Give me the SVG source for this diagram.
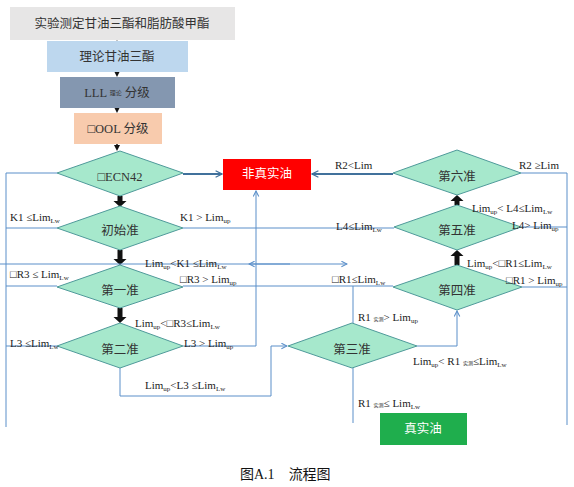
<svg xmlns="http://www.w3.org/2000/svg" width="574" height="487" viewBox="0 0 574 487">
<defs>
<style>
.t{font-family:"Liberation Serif","Noto Sans CJK SC",serif;font-size:11px;fill:#222}
.c{font-family:"Liberation Serif","Noto Sans CJK SC",serif;font-size:12.5px;fill:#333;text-anchor:middle;dominant-baseline:central}
.w{fill:#fff}
.s{font-size:7px;fill:#222}
.cap{font-family:"Liberation Serif","Noto Sans CJK SC",serif;font-size:14px;fill:#111}
.dm{fill:#a6e8cc;stroke:#4f9a9a;stroke-width:1}
.ln{fill:none;stroke:#5b8fc9;stroke-width:1}
.tk{fill:none;stroke:#41719c;stroke-width:2.2}
</style>
<marker id="oa" viewBox="0 0 10 10" refX="9" refY="5" markerWidth="7" markerHeight="7" orient="auto" markerUnits="userSpaceOnUse">
<path d="M1,1 L9,5 L1,9" fill="none" stroke="#5b8fc9" stroke-width="1.5"/>
</marker>
<marker id="ta" viewBox="0 0 10 10" refX="9" refY="5" markerWidth="8" markerHeight="8" orient="auto" markerUnits="userSpaceOnUse">
<path d="M1,1 L9,5 L1,9" fill="none" stroke="#41719c" stroke-width="1.5"/>
</marker>
<marker id="ba" viewBox="0 0 10 10" refX="5" refY="5" markerWidth="6" markerHeight="6" orient="auto" markerUnits="userSpaceOnUse">
<path d="M0,0 L10,5 L0,10 Z" fill="#111"/>
</marker>
</defs>
<rect width="574" height="487" fill="#fff"/>

<g id="connectors">
<g stroke="#111" stroke-width="1.5">
<line x1="117" y1="28" x2="117" y2="38" marker-end="url(#ba)"/>
<line x1="117" y1="65" x2="117" y2="74" marker-end="url(#ba)"/>
<line x1="117" y1="98" x2="117" y2="110" marker-end="url(#ba)"/>
<line x1="117" y1="135" x2="117" y2="148" marker-end="url(#ba)"/>
</g>
<g fill="#111">
<path d="M117.5,196 h5 v5 h4 l-6.5,6 l-6.5,-6 h4 z"/>
<path d="M117.5,250 h5 v9 h4 l-6.5,6 l-6.5,-6 h4 z"/>
<path d="M117.5,308 h5 v9 h4 l-6.5,6 l-6.5,-6 h4 z"/>
<path d="M454.5,265 h5 v-9 h4 l-6.5,-6 l-6.5,6 h4 z"/>
<path d="M454.5,205 h5 v-4 h4 l-6.5,-6 l-6.5,6 h4 z"/>
</g>
<path class="ln" d="M57,173 H6 V427"/>
<line class="ln" x1="6" y1="228" x2="57" y2="228"/>
<line class="ln" x1="6" y1="286" x2="57" y2="286"/>
<line class="ln" x1="6" y1="346" x2="57" y2="346"/>
<line class="ln" x1="0" y1="264" x2="347" y2="264" marker-end="url(#oa)"/>
<line class="ln" x1="290" y1="264" x2="249" y2="264" marker-end="url(#oa)"/>
<line class="ln" x1="183" y1="228" x2="394" y2="228"/>
<line class="ln" x1="183" y1="286" x2="393" y2="286"/>
<path class="ln" d="M183,346 H256 V191" marker-end="url(#oa)"/>
<path class="ln" d="M120,368 V396 H271 V346 H287" marker-end="url(#oa)"/>
<line class="ln" x1="353" y1="323" x2="353" y2="286"/>
<path class="ln" d="M417,346 H457 V311" marker-end="url(#oa)"/>
<line class="ln" x1="353" y1="368" x2="353" y2="423"/>
<path class="ln" d="M521,173 H567 V425"/>
<line class="ln" x1="521" y1="227" x2="567" y2="227"/>
<line class="ln" x1="522" y1="287" x2="567" y2="287"/>
<path class="tk" d="M183,174 H222" marker-end="url(#ta)"/>
<path class="tk" d="M393,174 H312" marker-end="url(#ta)"/>
</g>

<g id="n_exp"><rect x="10" y="7" width="225" height="33" fill="#e7e6e6"/><text class="c" x="122" y="24">实验测定甘油三酯和脂肪酸甲酯</text></g>
<g id="n_theory"><rect x="47" y="41" width="141" height="31" fill="#bdd7ee"/><text class="c" x="117" y="57">理论甘油三酯</text></g>
<g id="n_lll"><rect x="60" y="77" width="115" height="31" fill="#8497b0"/><text class="c" x="117" y="93">LLL <tspan font-size="6">理论</tspan> 分级</text></g>
<g id="n_ool"><rect x="74" y="113" width="88" height="31" fill="#f8cbad"/><text class="c" x="118" y="129">□OOL 分级</text></g>

<g id="n_ecn"><path class="dm" d="M120,151 L183,173 L120,196 L57,173 Z"/><text class="c" x="120" y="177">□ECN42</text></g>
<g id="n_init"><path class="dm" d="M120,206 L183,228 L120,250 L57,228 Z"/><text class="c" x="120" y="231">初始准</text></g>
<g id="n_c1"><path class="dm" d="M120,265 L183,287 L120,308 L57,287 Z"/><text class="c" x="120" y="291">第一准</text></g>
<g id="n_c2"><path class="dm" d="M120,323 L183,346 L120,368 L57,346 Z"/><text class="c" x="120" y="350">第二准</text></g>
<g id="n_c3"><path class="dm" d="M352,323 L417,346 L352,368 L288,346 Z"/><text class="c" x="352" y="350">第三准</text></g>
<g id="n_c4"><path class="dm" d="M457,265 L522,287 L457,310 L393,287 Z"/><text class="c" x="457" y="291">第四准</text></g>
<g id="n_c5"><path class="dm" d="M457,205 L521,227 L457,250 L394,227 Z"/><text class="c" x="457" y="231">第五准</text></g>
<g id="n_c6"><path class="dm" d="M457,150 L521,173 L457,195 L393,173 Z"/><text class="c" x="457" y="177">第六准</text></g>

<g id="n_fake"><rect x="223" y="159" width="88" height="31" fill="#ff0000"/><text class="c w" x="267" y="174">非真实油</text></g>
<g id="n_real"><rect x="380" y="413" width="87" height="32" fill="#1fae4d"/><text class="c w" x="423" y="429">真实油</text></g>

<g id="labels">
<text class="t" x="10" y="221">K1 ≤Lim<tspan class="s" dy="2">Lw</tspan></text>
<text class="t" x="180" y="221">K1 &gt; Lim<tspan class="s" dy="2">up</tspan></text>
<text class="t" x="145" y="267">Lim<tspan class="s" dy="2">up</tspan><tspan dy="-2">&lt;K1 ≤Lim</tspan><tspan class="s" dy="2">Lw</tspan></text>
<text class="t" x="10" y="278">□R3 ≤ Lim<tspan class="s" dy="2">Lw</tspan></text>
<text class="t" x="180" y="283">□R3 &gt; Lim<tspan class="s" dy="2">up</tspan></text>
<text class="t" x="135" y="327">Lim<tspan class="s" dy="2">up</tspan><tspan dy="-2">&lt;□R3≤Lim</tspan><tspan class="s" dy="2">Lw</tspan></text>
<text class="t" x="10" y="347">L3 ≤Lim<tspan class="s" dy="2">Lw</tspan></text>
<text class="t" x="184" y="347">L3 &gt; Lim<tspan class="s" dy="2">up</tspan></text>
<text class="t" x="145" y="389">Lim<tspan class="s" dy="2">up</tspan><tspan dy="-2">&lt;L3 ≤Lim</tspan><tspan class="s" dy="2">Lw</tspan></text>
<text class="t" x="335" y="169">R2&lt;Lim</text>
<text class="t" x="519" y="169">R2 ≥Lim</text>
<text class="t" x="472" y="212">Lim<tspan class="s" dy="2">up</tspan><tspan dy="-2">&lt; L4≤Lim</tspan><tspan class="s" dy="2">Lw</tspan></text>
<text class="t" x="336" y="230">L4≤Lim<tspan class="s" dy="2">Lw</tspan></text>
<text class="t" x="512" y="229">L4&gt; Lim<tspan class="s" dy="2">up</tspan></text>
<text class="t" x="467" y="267">Lim<tspan class="s" dy="2">up</tspan><tspan dy="-2">&lt;□R1≤Lim</tspan><tspan class="s" dy="2">Lw</tspan></text>
<text class="t" x="332" y="283">□R1≤Lim<tspan class="s" dy="2">Lw</tspan></text>
<text class="t" x="506" y="284">□R1 &gt; Lim<tspan class="s" dy="2">up</tspan></text>
<text class="t" x="358" y="321">R1 <tspan font-size="5">实测</tspan>&gt; Lim<tspan class="s" dy="2">up</tspan></text>
<text class="t" x="413" y="365">Lim<tspan class="s" dy="2">up</tspan><tspan dy="-2">&lt; R1 </tspan><tspan font-size="5">实测</tspan>≤Lim<tspan class="s" dy="2">Lw</tspan></text>
<text class="t" x="358" y="407">R1 <tspan font-size="5">实测</tspan>≤ Lim<tspan class="s" dy="2">Lw</tspan></text>
</g>
<text class="cap" x="240" y="479">图A.1<tspan dx="14">流程图</tspan></text>
</svg>
